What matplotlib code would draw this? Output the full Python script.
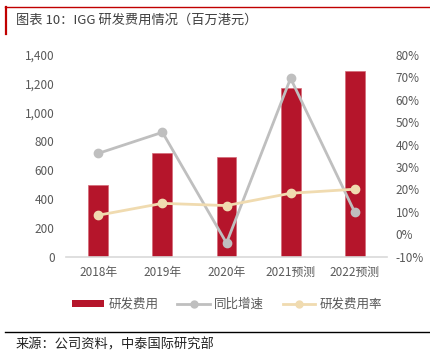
import matplotlib
matplotlib.use('Agg')
import matplotlib.pyplot as plt
from matplotlib.lines import Line2D
from matplotlib.patches import Patch
from matplotlib.ticker import FuncFormatter, MultipleLocator

plt.rcParams['font.family'] = ['Noto Sans CJK SC', 'DejaVu Sans']

# data
years = ['2018年', '2019年', '2020年', '2021预测', '2022预测']
rd_cost = [495, 717, 692, 1173, 1289]          # 百万港元
yoy_growth = [36.1, 45.5, -3.9, 69.6, 9.9]     # %
rd_ratio = [8.5, 13.8, 12.8, 18.3, 20.1]       # %

BAR_COLOR = '#B5152B'
GRAY = '#BFBFBF'
BEIGE = '#F0DBB0'
TICK_COLOR = '#595959'

fig = plt.figure(figsize=(4.3, 3.54), dpi=100)
ax = fig.add_axes([0.1542, 0.2749, 0.7451, 0.5698])
ax2 = ax.twinx()

x = list(range(len(years)))
ax.bar(x, rd_cost, width=0.31, color=BAR_COLOR, edgecolor='#D46A78', linewidth=0.5, zorder=2)
ax.set_xlim(-0.5, len(years) - 0.5)
ax.set_ylim(0, 1400)
ax.yaxis.set_major_locator(MultipleLocator(200))
ax.yaxis.set_major_formatter(FuncFormatter(lambda v, p: f'{int(v):,}'))

ax2.plot(x, yoy_growth, color=GRAY, lw=2.0, marker='o', ms=6, zorder=3)
ax2.plot(x, rd_ratio, color=BEIGE, lw=2.0, marker='o', ms=6, zorder=3)
ax2.set_ylim(-10, 80)
ax2.yaxis.set_major_locator(MultipleLocator(10))
ax2.yaxis.set_major_formatter(FuncFormatter(lambda v, p: f'{int(round(v))}%'))

ax.set_xticks(x)
ax.set_xticklabels(years)
for a in (ax, ax2):
    for s in a.spines.values():
        s.set_visible(False)
    a.tick_params(length=0, colors=TICK_COLOR, labelsize=8.5)
ax.spines['bottom'].set_visible(True)
ax.spines['bottom'].set_color('#D9D9D9')
ax.spines['bottom'].set_linewidth(1.2)
ax.tick_params(axis='y', pad=8.5)
ax.tick_params(axis='x', pad=7)
ax2.tick_params(axis='y', pad=6.5)
ax.set_zorder(ax2.get_zorder() - 1)
ax.patch.set_visible(False)
ax2.patch.set_visible(False)

handles = [
    Patch(facecolor=BAR_COLOR, edgecolor='none'),
    Line2D([], [], color=GRAY, lw=2.0, marker='o', ms=5),
    Line2D([], [], color=BEIGE, lw=2.0, marker='o', ms=5),
]
fig.legend(handles, ['研发费用', '同比增速', '研发费用率'], loc='center',
           bbox_to_anchor=(0.528, 0.141), ncol=3, frameon=False,
           fontsize=9, labelcolor=TICK_COLOR, handlelength=2.6,
           handleheight=0.5, handletextpad=0.35, columnspacing=1.5)

# header and footer decorations
fig.add_artist(Line2D([5 / 430, 1], [1 - 6.7 / 354] * 2, color='#C00000', lw=1.0))
fig.add_artist(Line2D([6 / 430] * 2, [1 - 6.7 / 354, 1 - 34 / 354], color='#C00000', lw=1.6))
fig.text(16 / 430, 1 - 20.7 / 354, '图表 10：IGG 研发费用情况（百万港元）',
         fontsize=9.5, color='#404040', va='center', ha='left')
fig.add_artist(Line2D([5 / 430, 1], [1 - 332.3 / 354] * 2, color='black', lw=1.0))
fig.text(16 / 430, 1 - 344.5 / 354, '来源：公司资料，中泰国际研究部',
         fontsize=9.5, color='#222222', va='center', ha='left')

fig.savefig('out.png', dpi=100)
